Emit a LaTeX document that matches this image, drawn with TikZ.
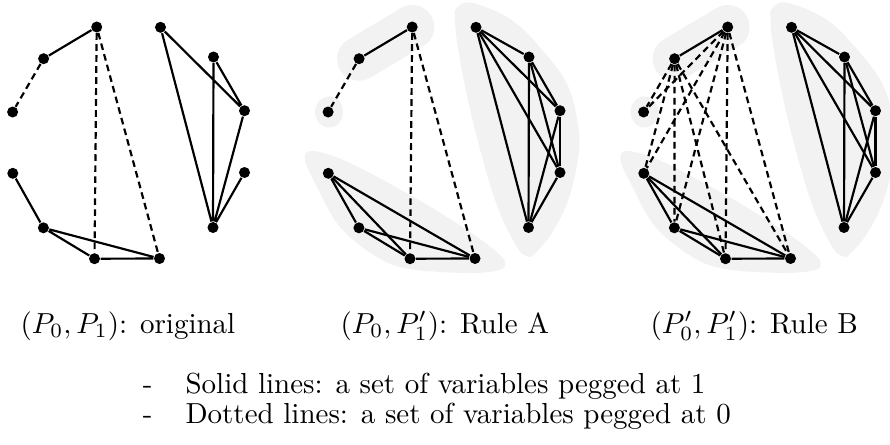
\documentclass[tikz,border=0pt]{standalone}
\usetikzlibrary{calc}
\pgfdeclarelayer{back}
\pgfdeclarelayer{edges}
\pgfsetlayers{back,edges,main}
\begin{document}
\begin{tikzpicture}[x=0.345pt,y=-0.345pt,
  vtx/.style={circle,fill=black,inner sep=0pt,minimum size=3.8pt},
  solidedge/.style={line width=0.75pt},
  dashededge/.style={line width=0.75pt,dash pattern=on 2.3pt off 1.5pt},
  blobfill/.style={fill=black!5},
  blobline/.style={draw=black!5,line width=15.2pt,line cap=round},
  lbl/.style={anchor=base west,inner sep=0pt},
  bul/.style={anchor=base east,inner sep=0pt}]
\useasboundingbox (0,0) rectangle (890,444);

% vertices of the three panels
\foreach \p/\dx in {1/0,2/315.5,3/631}{
  \begin{scope}[shift={(\dx,0)}]
    \node[vtx] (p\p a) at (96.7,27) {};
    \node[vtx] (p\p b) at (43.6,58.7) {};
    \node[vtx] (p\p c) at (12.6,112) {};
    \node[vtx] (p\p d) at (12.8,173.3) {};
    \node[vtx] (p\p e) at (43.4,227.8) {};
    \node[vtx] (p\p f) at (94.5,258.7) {};
    \node[vtx] (p\p g) at (159.5,258.5) {};
    \node[vtx] (p\p h) at (160.5,27.3) {};
    \node[vtx] (p\p i) at (213.5,57) {};
    \node[vtx] (p\p j) at (244.5,110.7) {};
    \node[vtx] (p\p k) at (244.5,172.5) {};
    \node[vtx] (p\p l) at (213,227.5) {};
  \end{scope}
}

% grey clusters of panels 2 and 3
\begin{pgfonlayer}{back}
\foreach \dx in {315.5,631}{
  \begin{scope}[shift={(\dx,0)}]
    \draw[blobline] (96.7,27) -- (43.6,58.7);
    \fill[blobfill] (13.5,112) ellipse [x radius=14, y radius=15.5];
    \fill[blobfill] plot[smooth cycle, tension=0.6] coordinates {
      (-10.5,160) (-2.5,151) (34.5,163) (101.5,199) (154.5,232) (184.5,255)
      (189.5,266) (179.5,271) (150.5,273) (94.5,269) (61.5,257) (24.5,227) (1.5,187)};
    \fill[blobfill] plot[smooth cycle, tension=0.6] coordinates {
      (141.2,8.3) (156.2,2.7) (196.2,20) (229.5,53.3) (252.8,86.7) (262.8,126.7)
      (262.8,156.7) (252.8,200) (236.2,233.3) (219.5,253.3) (212.8,256.7)
      (201.2,246.7) (179.5,200) (156.2,116.7) (142.8,50) (139.5,20)};
  \end{scope}
}
\end{pgfonlayer}

\begin{pgfonlayer}{edges}
% panel 1
\draw[solidedge] (p1a)--(p1b) (p1d)--(p1e) (p1e)--(p1f) (p1e)--(p1g) (p1f)--(p1g)
  (p1h)--(p1j) (p1h)--(p1l) (p1i)--(p1j) (p1i)--(p1l) (p1j)--(p1l) (p1k)--(p1l);
\draw[dashededge] (p1b)--(p1c) (p1a)--(p1f) (p1a)--(p1g);
% panels 2 and 3: solid cliques
\foreach \p in {2,3}{
  \draw[solidedge] (p\p a)--(p\p b);
  \foreach \u/\v in {d/e,d/f,d/g,e/f,e/g,f/g,h/i,h/j,h/k,h/l,i/j,i/k,i/l,j/k,j/l,k/l}
    \draw[solidedge] (p\p\u)--(p\p\v);
}
% panel 2 dashed
\draw[dashededge] (p2b)--(p2c) (p2a)--(p2f) (p2a)--(p2g);
% panel 3 dashed
\foreach \u in {a,b}
  \foreach \v in {c,d,e,f,g}
    \draw[dashededge] (p3\u)--(p3\v);
\end{pgfonlayer}

% captions
\node[lbl] (cap1) at (20,333) {$(P_0,P_1)$: original};
\node[lbl] (cap2) at (340,333) {$(P_0,P_1')$: Rule A};
\node[lbl] (cap3) at (650,333) {$(P_0',P_1')$: Rule B};
\node[bul] (bul1) at (153,393) {-};
\node[lbl] (sol) at (185,393) {Solid lines: a set of variables pegged at 1};
\node[bul] (bul2) at (153,423) {-};
\node[lbl] (dot) at (185,423) {Dotted lines: a set of variables pegged at 0};
\end{tikzpicture}
\end{document}
